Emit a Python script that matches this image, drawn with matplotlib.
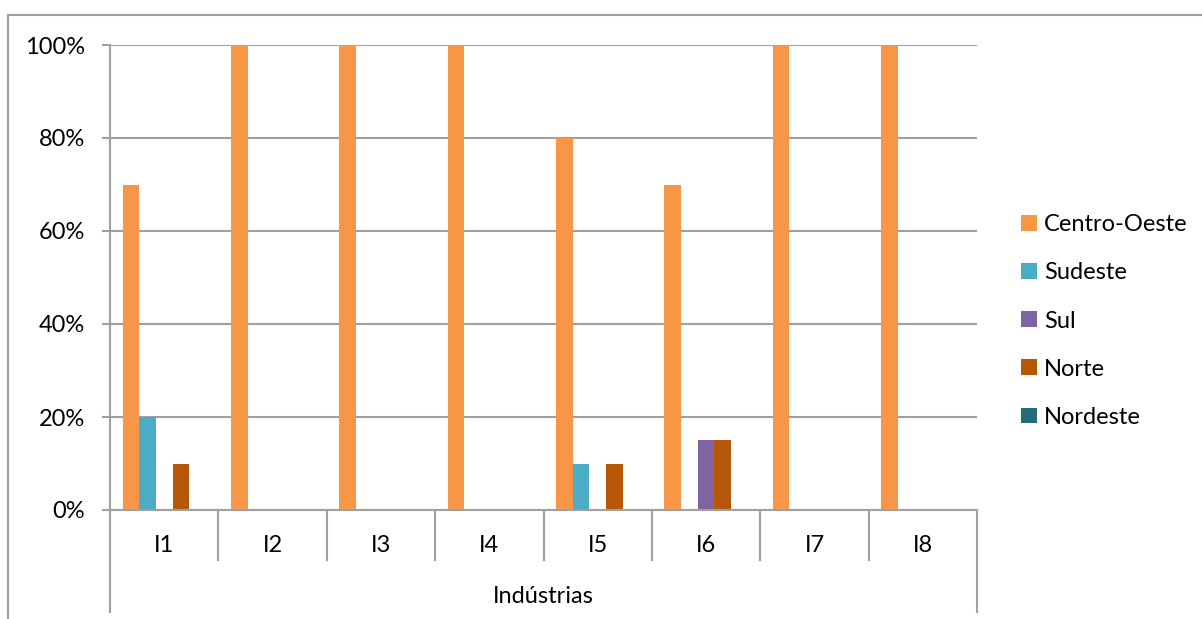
import matplotlib
matplotlib.use("Agg")
import matplotlib.pyplot as plt
from matplotlib.patches import Rectangle
from matplotlib.ticker import FuncFormatter
import numpy as np

plt.rcParams['font.family'] = ['Lato', 'DejaVu Sans']

industrias = ['I1', 'I2', 'I3', 'I4', 'I5', 'I6', 'I7', 'I8']
regioes = ['Centro-Oeste', 'Sudeste', 'Sul', 'Norte', 'Nordeste']
centro_oeste = [70, 100, 100, 100, 80, 70, 100, 100]
sudeste = [20, 0, 0, 0, 10, 0, 0, 0]
sul = [0, 0, 0, 0, 0, 15, 0, 0]
norte = [10, 0, 0, 0, 10, 15, 0, 0]
nordeste = [0, 0, 0, 0, 0, 0, 0, 0]
cores = ['#F79646', '#4BACC6', '#8064A2', '#B65708', '#276A7C']

W, H = 1202, 619
fig = plt.figure(figsize=(W / 100, H / 100), dpi=100)
ax = fig.add_axes([110 / W, (H - 510) / H, (977 - 110) / W, (510 - 45) / H])

grid_c = '#A0A0A0'
fs = 17

# chart frame (runs off the right and bottom edges)
fig.patches.append(Rectangle((8 / W, -0.1), 1.2, (H - 15) / H + 0.1,
                             transform=fig.transFigure, fill=False,
                             edgecolor=grid_c, linewidth=1.5))

x = np.arange(len(industrias))
w = 1 / 6.5
series = [centro_oeste, sudeste, sul, norte, nordeste]
for j, (vals, nome, cor) in enumerate(zip(series, regioes, cores)):
    ax.bar(x + (j - 2) * w, np.array(vals) / 100, width=w, color=cor,
           label=nome, zorder=3)

ax.set_xlim(-0.5, len(industrias) - 0.5)
ax.set_ylim(0, 1)
ax.set_yticks(np.arange(0, 1.01, 0.2))
ax.yaxis.set_major_formatter(FuncFormatter(lambda v, p: f'{v * 100:.0f}%'))
ax.yaxis.grid(True, color=grid_c, linewidth=1.5, zorder=0)
ax.tick_params(axis='y', length=5.8, width=1.5, color=grid_c,
               labelsize=fs, pad=12)
ax.set_xticks(x)
ax.set_xticklabels([])
ax.tick_params(axis='x', length=0)

for s in ['top', 'right']:
    ax.spines[s].set_visible(False)
for s in ['left', 'bottom']:
    ax.spines[s].set_color(grid_c)
    ax.spines[s].set_linewidth(1.5)
    ax.spines[s].set_zorder(4)

# category separators and multi-level labels
trans = ax.get_xaxis_transform()
for b in np.arange(-0.5, len(industrias), 1.0):
    outer = b in (-0.5, len(industrias) - 0.5)
    ax.plot([b, b], [0, -0.219 if outer else -0.1075], color=grid_c,
            linewidth=1.5, transform=trans, clip_on=False)
for xi, lab in zip(x, industrias):
    ax.text(xi, -0.077, lab, transform=trans, ha='center', va='center',
            fontsize=fs)
ax.text((len(industrias) - 1) / 2, -0.187, 'Indústrias', transform=trans,
        ha='center', va='center', fontsize=fs)

ax.legend(loc='center left', bbox_to_anchor=(1012 / W, (H - 321) / H),
          bbox_transform=fig.transFigure, frameon=False, fontsize=fs,
          handlelength=0.65, handleheight=0.65, handletextpad=0.3,
          labelspacing=1.15, borderaxespad=0)

fig.savefig('out.png', dpi=100)
